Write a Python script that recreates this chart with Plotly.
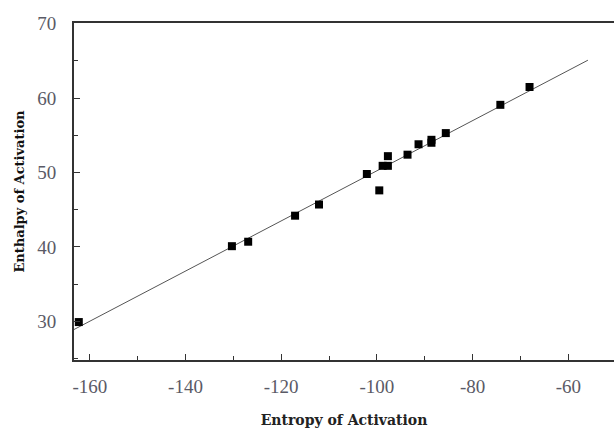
import plotly.graph_objects as go

# data
entropy = [-162.3, -130.3, -126.9, -117.1, -112.1, -102.1, -99.5, -98.8, -97.7,
           -97.7, -93.6, -91.3, -88.6, -88.6, -85.6, -74.2, -68.1]
enthalpy = [29.9, 40.1, 40.7, 44.2, 45.7, 49.8, 47.6, 50.9, 50.9,
            52.2, 52.4, 53.8, 54.4, 54.0, 55.3, 59.1, 61.5]
fit_x = [-163.3, -55.9]
fit_y = [28.9, 65.1]
x_ticks = [-160, -140, -120, -100, -80, -60]
x_ticktext = ["-160", "-140", "-120", "-100", "-80", "-60"]
y_ticks = [30, 40, 50, 60, 70]

fig = go.Figure()
fig.add_trace(go.Scatter(x=fit_x, y=fit_y, mode="lines",
                         line=dict(color="#555555", width=1), showlegend=False))
fig.add_trace(go.Scatter(x=entropy, y=enthalpy, mode="markers",
                         marker=dict(symbol="square", size=8, color="black"),
                         showlegend=False))

tickfont = dict(family="Liberation Serif", size=19, color="#5a5a66")
fig.update_layout(
    width=614, height=428,
    margin=dict(l=74, r=0, t=23, b=65),
    paper_bgcolor="white", plot_bgcolor="white",
    xaxis=dict(range=[-163.3, -50.45], tickvals=x_ticks, ticktext=x_ticktext,
               ticks="inside", ticklen=6, tickwidth=1.2, tickcolor="#333",
               minor=dict(ticks="inside", ticklen=4, dtick=10, tick0=-160, tickcolor="#333"),
               showline=True, linecolor="#333", linewidth=1.8, mirror=True,
               showgrid=False, zeroline=False, tickfont=tickfont, ticklabelstandoff=8,
               title=dict(text="Entropy of Activation",
                          font=dict(family="DejaVu Serif", size=14, color="#222", weight="bold"),
                          standoff=21)),
    yaxis=dict(range=[24.8, 70.1], tickvals=y_ticks, ticks="inside", ticklen=6,
               tickwidth=1.2, tickcolor="#333",
               minor=dict(ticks="inside", ticklen=4, dtick=5, tick0=30, tickcolor="#333"),
               showline=True, linecolor="#333", linewidth=1.8, mirror=False,
               showgrid=False, zeroline=False, tickfont=tickfont, ticklabelstandoff=12,
               title=dict(text="Enthalpy of Activation",
                          font=dict(family="DejaVu Serif", size=13, color="#111", weight="bold"),
                          standoff=10)),
)
fig.write_html("out.html")
